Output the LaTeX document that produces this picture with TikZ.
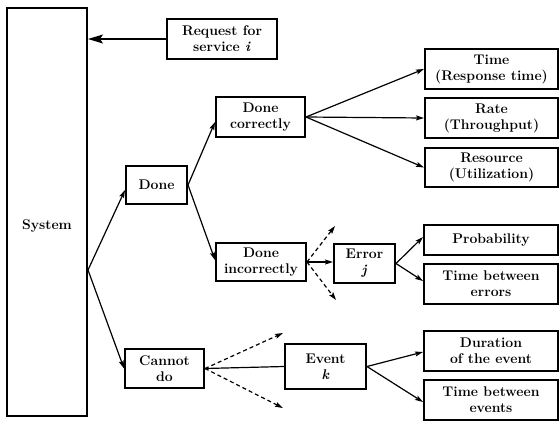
\documentclass[tikz,border=0pt]{standalone}
\usetikzlibrary{arrows.meta}
\begin{document}
\begin{tikzpicture}[x=1pt,y=-1pt,
  txt/.style={font=\fontsize{14}{16}\selectfont\bfseries},
  box/.style={txt,draw,line width=2pt,inner sep=0pt,align=center},
  conn/.style={line width=1.2pt,-{Stealth[length=8pt,width=5pt,inset=1.5pt]}},
  dconn/.style={conn,dashed,dash pattern=on 4pt off 3pt},
  plain/.style={line width=1.2pt}]
\useasboundingbox (0,0) rectangle (560,424);
% left column
\node[box,minimum width=80pt,minimum height=408pt] (sys) at (47,212) {};
\node[txt] (syslabel) at (47,226) {System};
\coordinate (sysout) at ([yshift=-58pt]sys.east);
\node[box,minimum width=110pt,minimum height=40pt] (req) at (222,39) {Request for\\service \textit{i}};
% second level
\node[box,minimum width=61pt,minimum height=38pt] (done) at (156.5,185) {Done};
\node[box,minimum width=79pt,minimum height=39pt] (cd) at (164.5,368.5) {Cannot\\do};
\node[box,minimum width=89pt,minimum height=40pt] (dc) at (260.5,117) {Done\\correctly};
\node[box,minimum width=90pt,minimum height=38pt] (di) at (261,262) {Done\\incorrectly};
\node[box,minimum width=61pt,minimum height=39pt] (err) at (364.5,263.5) {Error\\\textit{j}};
\node[box,minimum width=81pt,minimum height=45pt] (ev) at (325.5,366.5) {Event\\\textit{k}};
% metrics column
\node[box,minimum width=133pt,minimum height=40pt] (time) at (491.5,69) {Time\\(Response time)};
\node[box,minimum width=133pt,minimum height=40pt] (rate) at (491.5,118) {Rate\\(Throughput)};
\node[box,minimum width=133pt,minimum height=39pt] (res) at (491.5,167.5) {Resource\\(Utilization)};
\node[box,minimum width=134pt,minimum height=30pt] (prob) at (491,240) {Probability};
\node[box,minimum width=134pt,minimum height=40pt] (tbe) at (491,284) {Time between\\errors};
\node[box,minimum width=134pt,minimum height=40pt] (dur) at (491,351) {Duration\\of the event};
\node[box,minimum width=134pt,minimum height=40pt] (tbev) at (491,400) {Time between\\events};
% loose ends of the dashed arrows
\coordinate (diup) at (335,226);
\coordinate (didn) at (336,300);
\coordinate (cdup) at (283,333);
\coordinate (cddn) at (283,408);
% connectors
\draw[conn,-{Stealth[length=15pt,width=9pt,inset=3pt]}] (req.west) -- (req.west -| sys.east);
\draw[conn] (sysout) -- ([yshift=-5pt]done.west);
\draw[conn] (sysout) -- (cd.west);
\draw[conn] (done.east) -- ([yshift=-5pt]dc.west);
\draw[conn] (done.east) -- ([yshift=2pt]di.west);
\draw[conn] (dc.east) -- (time.west);
\draw[conn] (dc.east) -- (rate.west);
\draw[conn] (dc.east) -- (res.west);
\draw[dconn] (di.east) -- (diup);
\draw[dconn] (di.east) -- (didn);
\draw[conn] (di.east) -- (err.west |- di.east);
\draw[conn] (err.east) -- ([yshift=3pt]prob.west);
\draw[conn] (err.east) -- ([yshift=3pt]tbe.west);
\draw[dconn] (cd.east) -- (cdup);
\draw[dconn] (cd.east) -- (cddn);
\draw[plain] (cd.east) -- (ev.west);
\draw[conn] (ev.east) -- ([yshift=-1pt]dur.west);
\draw[conn] (ev.east) -- ([yshift=-2pt]tbev.west);
\end{tikzpicture}
\end{document}
